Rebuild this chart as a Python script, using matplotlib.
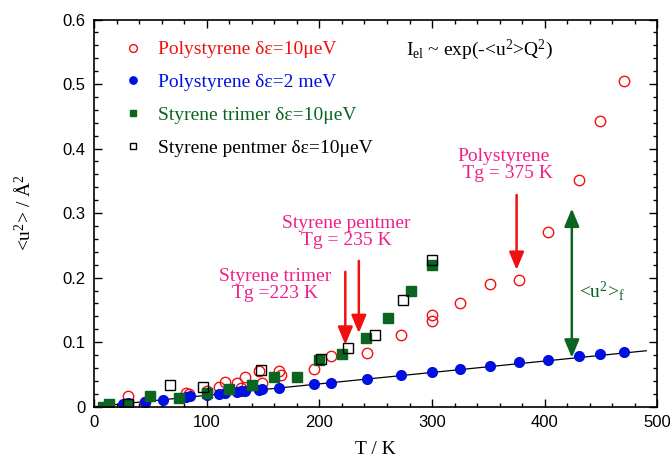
import matplotlib.pyplot as plt
from matplotlib.ticker import MultipleLocator, FormatStrFormatter

# Polystyrene, resolution 10 ueV
ps10_T = [30, 45, 82, 84, 100, 111, 116, 127, 130, 134, 146, 149, 164, 166,
          195, 210, 242, 272, 300, 300, 325, 351, 377, 403, 430, 449, 470]
ps10_u = [0.017, 0.008, 0.022, 0.020, 0.025, 0.030, 0.038, 0.037, 0.029, 0.046,
          0.056, 0.036, 0.056, 0.049, 0.058, 0.079, 0.084, 0.111, 0.142, 0.133,
          0.160, 0.190, 0.197, 0.271, 0.352, 0.442, 0.505]

# Polystyrene, resolution 2 meV
ps2_T = [26, 30, 45, 61, 82, 85, 100, 111, 116, 127, 130, 134, 146, 149, 164,
         195, 210, 242, 272, 300, 325, 351, 377, 403, 430, 449, 470]
ps2_u = [0.004, 0.005, 0.008, 0.011, 0.015, 0.016, 0.018, 0.020, 0.021, 0.023,
         0.024, 0.024, 0.026, 0.027, 0.029, 0.035, 0.037, 0.043, 0.049, 0.054,
         0.058, 0.063, 0.069, 0.073, 0.078, 0.082, 0.085]

# Styrene trimer
tri_T = [8, 13, 30, 50, 75, 100, 120, 140, 160, 180, 200, 220, 241, 261, 281, 300]
tri_u = [0.0, 0.004, 0.002, 0.017, 0.013, 0.022, 0.027, 0.033, 0.046, 0.046,
         0.072, 0.082, 0.107, 0.138, 0.180, 0.219]

# Styrene pentmer
pen_T = [30, 67, 97, 148, 201, 225, 249, 274, 300]
pen_u = [0.004, 0.034, 0.030, 0.057, 0.074, 0.091, 0.111, 0.166, 0.227]

# linear fit through the 2 meV data
fit_T = [0, 490]
fit_slope = 1.77e-4

# glass transitions: Tg, arrow start, arrow tip
tg_T = [223, 235, 375]
tg_top = [0.209, 0.226, 0.328]
tg_tip = [0.096, 0.114, 0.212]
tg_text = ['Styrene trimer\nTg =223 K', 'Styrene pentmer\nTg = 235 K',
           'Polystyrene\n  Tg = 375 K']
tg_text_pos = [(161, 0.188), (224, 0.271), (363, 0.375)]

# fast-motion amplitude arrow
uf_T = 424
uf_range = (0.076, 0.307)

plt.rcParams['font.family'] = 'Liberation Serif'
plt.rcParams['mathtext.fontset'] = 'custom'
plt.rcParams['mathtext.rm'] = 'Liberation Serif'
plt.rcParams['mathtext.it'] = 'Liberation Serif'

red = '#f01010'
blue = '#0010e0'
green = '#0b6420'
pink = '#f0208a'

fig = plt.figure(figsize=(6.7, 4.59), dpi=100)
ax = fig.add_axes([0.1403, 0.1139, 0.841, 0.8436])

ax.plot(ps10_T, ps10_u, 'o', mfc='none', mec=red, ms=7.5, mew=1.0,
        label='Polystyrene δε=10μeV')
ax.plot(ps2_T, ps2_u, 'o', color=blue, ms=7, label='Polystyrene δε=2 meV')
ax.plot(tri_T, tri_u, 's', color=green, ms=6.5, label='Styrene trimer δε=10μeV')
ax.plot(pen_T, pen_u, 's', mfc='none', mec='black', ms=6.5, mew=1.0,
        label='Styrene pentmer δε=10μeV')
ax.plot(fit_T, [fit_slope * t for t in fit_T], color='black', lw=0.9, zorder=1)

for x, y0, y1 in zip(tg_T, tg_top, tg_tip):
    ax.annotate('', xy=(x, y1), xytext=(x, y0),
                arrowprops=dict(arrowstyle='-|>,head_length=0.6,head_width=0.25',
                                color=red, lw=1.8, mutation_scale=18,
                                shrinkA=0, shrinkB=0))
for s, (x, y) in zip(tg_text, tg_text_pos):
    ax.text(x, y, s, color=pink, fontsize=14, ha='center', va='center',
            linespacing=1.0)

ax.annotate('', xy=(uf_T, uf_range[0]), xytext=(uf_T, uf_range[1]),
            arrowprops=dict(arrowstyle='<|-|>,head_length=0.6,head_width=0.25',
                            color=green, lw=1.8, mutation_scale=18,
                            shrinkA=0, shrinkB=0))
ax.text(430, 0.18, r'<u$^{2}$>$_{f}$', color=green, fontsize=14, va='center')

ax.text(277, 0.553, r'I$_{el}$ ~ exp(-<u$^{2}$>Q$^{2}$)', fontsize=14,
        va='center')

leg = ax.legend(loc='upper left', bbox_to_anchor=(0.023, 0.99), frameon=False,
                fontsize=14, handlelength=0.9, handletextpad=0.8,
                labelspacing=0.78, markerscale=0.75,
                labelcolor=[red, blue, green, 'black'])

ax.set_xlim(0, 500)
ax.set_ylim(0, 0.6)
ax.xaxis.set_major_locator(MultipleLocator(100))
ax.xaxis.set_minor_locator(MultipleLocator(20))
ax.yaxis.set_major_locator(MultipleLocator(0.1))
ax.yaxis.set_minor_locator(MultipleLocator(0.02))
ax.yaxis.set_major_formatter(FormatStrFormatter('%g'))
ax.tick_params(which='both', direction='in', top=True, right=True, width=1)
ax.tick_params(which='major', length=6, labelsize=12, pad=6)
ax.tick_params(which='minor', length=3)
for lab in ax.get_xticklabels() + ax.get_yticklabels():
    lab.set_fontfamily('Liberation Sans')
for sp in ax.spines.values():
    sp.set_linewidth(1.2)

ax.set_xlabel('T / K', fontsize=14, labelpad=8)
ax.set_ylabel(r'<u$^{2}$> / Å$^{2}$', fontsize=14, labelpad=20)

fig.savefig('out.png', dpi=100)
